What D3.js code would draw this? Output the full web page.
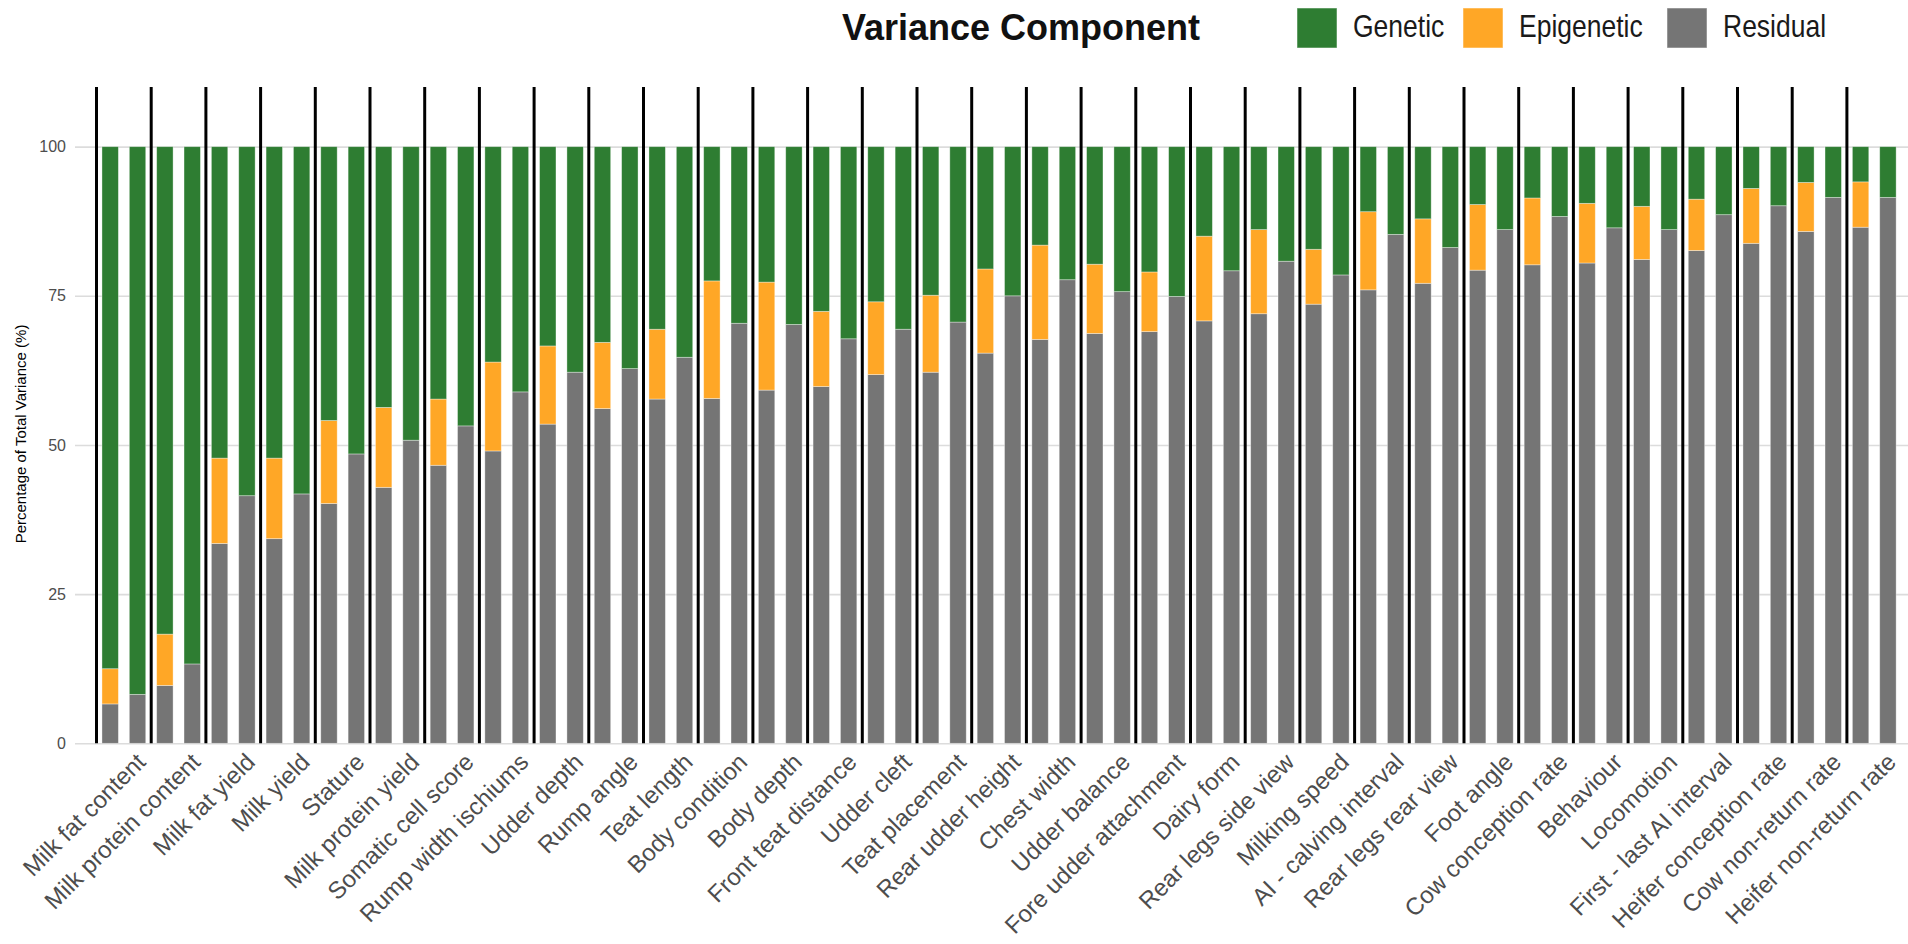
<!DOCTYPE html>
<html>
<head>
<meta charset="utf-8">
<script src="https://cdn.jsdelivr.net/npm/d3@7"></script>
<style>
  body { margin: 0; background: #fff; }
  svg { display: block; font-family: "Liberation Sans", Arial, sans-serif; }
</style>
</head>
<body>
<script>
const traits = [
    "Milk fat content", "Milk protein content", "Milk fat yield", "Milk yield",
    "Stature", "Milk protein yield", "Somatic cell score", "Rump width ischiums",
    "Udder depth", "Rump angle", "Teat length", "Body condition", "Body depth",
    "Front teat distance", "Udder cleft", "Teat placement", "Rear udder height",
    "Chest width", "Udder balance", "Fore udder attachment", "Dairy form",
    "Rear legs side view", "Milking speed", "AI - calving interval",
    "Rear legs rear view", "Foot angle", "Cow conception rate", "Behaviour",
    "Locomotion", "First - last AI interval", "Heifer conception rate",
    "Cow non-return rate", "Heifer non-return rate"
]

// model with epigenetic component (left bar of each pair)
const epiResidual = [6.6, 9.7, 33.5, 34.3, 40.2, 42.9, 46.6, 49.0, 53.5, 56.1, 57.7,
    57.8, 59.2, 59.8, 61.8, 62.2, 65.4, 67.7, 68.7, 69.0, 70.8, 72.0, 73.6, 76.0,
    77.1, 79.3, 80.2, 80.5, 81.1, 82.6, 83.8, 85.8, 86.5]
const epiEpigenetic = [5.9, 8.6, 14.3, 13.5, 13.9, 13.4, 11.1, 14.9, 13.1, 11.1, 11.7,
    19.7, 18.1, 12.6, 12.2, 12.9, 14.1, 15.8, 11.6, 10.0, 14.2, 14.1, 9.2, 13.1,
    10.8, 11.0, 11.2, 10.0, 8.9, 8.6, 9.2, 8.2, 7.6]
const epiGenetic = [87.5, 81.7, 52.2, 52.2, 45.9, 43.7, 42.3, 36.1, 33.4, 32.8, 30.6,
    22.5, 22.7, 27.6, 26.0, 24.9, 20.5, 16.5, 19.7, 21.0, 15.0, 13.9, 17.2, 10.9,
    12.1, 9.7, 8.6, 9.5, 10.0, 8.8, 7.0, 6.0, 5.9]

// model without epigenetic component (right bar of each pair)
const baseResidual = [8.2, 13.3, 41.5, 41.8, 48.5, 50.8, 53.2, 58.9, 62.2, 62.8, 64.7,
    70.4, 70.2, 67.8, 69.4, 70.6, 75.0, 77.7, 75.7, 74.9, 79.2, 80.8, 78.5, 85.3,
    83.1, 86.1, 88.3, 86.4, 86.1, 88.6, 90.1, 91.5, 91.5]
const baseGenetic = [91.8, 86.7, 58.5, 58.2, 51.5, 49.2, 46.8, 41.1, 37.8, 37.2, 35.3,
    29.6, 29.8, 32.2, 30.6, 29.4, 25.0, 22.3, 24.3, 25.1, 20.8, 19.2, 21.5, 14.7,
    16.9, 13.9, 11.7, 13.6, 13.9, 11.4, 9.9, 8.5, 8.5]

const components = ["Residual", "Epigenetic", "Genetic"]
const legendOrder = ["Genetic", "Epigenetic", "Residual"]
const colors = { Genetic: "#2e7d32", Epigenetic: "#ffa726", Residual: "#757575" }
const yTicks = [0, 25, 50, 75, 100]

const width = 1908
const height = 944

const bars = []
traits.forEach((t, i) => {
    bars.push({ id: t + "|epi", trait: t, Residual: epiResidual[i], Epigenetic: epiEpigenetic[i], Genetic: epiGenetic[i] })
    bars.push({ id: t + "|base", trait: t, Residual: baseResidual[i], Epigenetic: 0, Genetic: baseGenetic[i] })
})

const svg = d3.select("body")
    .append("svg")
    .attr("width", width)
    .attr("height", height)

const y = d3.scaleLinear()
    .domain([0, 110])
    .range([743.3, 87])

const x = d3.scaleBand()
    .domain(bars.map(d => d.id))
    .range([96.5, 1901.6])
    .paddingInner(0.4)
    .paddingOuter(0.2)

// one band per trait pair, same extent as the bar bands
const xTrait = d3.scaleBand()
    .domain(traits)
    .range([96.5, 96.5 + x.step() * bars.length])

// gridlines
svg.append("g")
    .attr("class", "grid")
    .attr("transform", "translate(75,0)")
    .call(d3.axisLeft(y).tickValues(yTicks).tickSize(-(width - 75)).tickFormat(""))
    .call(g => g.select(".domain").remove())
    .call(g => g.selectAll("line").attr("stroke", "#dcdcdc").attr("stroke-width", 1.6))

// stacked bars
const stacked = d3.stack().keys(components)(bars)

svg.append("g")
    .selectAll("g")
    .data(stacked)
    .join("g")
    .attr("fill", d => colors[d.key])
    .selectAll("rect")
    .data(d => d.filter(s => s[1] - s[0] > 0))
    .join("rect")
    .attr("x", d => x(d.data.id))
    .attr("width", x.bandwidth())
    .attr("y", d => y(d[1]))
    .attr("height", d => y(d[0]) - y(d[1]))
    .attr("stroke", "#ffffff")
    .attr("stroke-opacity", 0.45)
    .attr("stroke-width", 0.8)

// separators before each trait pair
svg.append("g")
    .selectAll("line")
    .data(traits)
    .join("line")
    .attr("x1", d => xTrait(d))
    .attr("x2", d => xTrait(d))
    .attr("y1", y(110))
    .attr("y2", y(0))
    .attr("stroke", "#000")
    .attr("stroke-width", 3)

// y axis labels
svg.append("g")
    .attr("transform", "translate(75,0)")
    .call(d3.axisLeft(y).tickValues(yTicks).tickSize(0).tickPadding(9))
    .call(g => g.select(".domain").remove())
    .call(g => g.selectAll("text")
        .attr("font-size", 16)
        .attr("fill", "#4d4d4d")
        .attr("font-family", "Liberation Sans, Arial, sans-serif"))

svg.append("text")
    .attr("transform", "translate(26,434) rotate(-90)")
    .attr("text-anchor", "middle")
    .attr("font-size", 15)
    .attr("fill", "#000")
    .text("Percentage of Total Variance (%)")

// x axis labels
svg.append("g")
    .attr("transform", "translate(0,743.3)")
    .call(d3.axisBottom(xTrait).tickSize(0).tickPadding(0))
    .call(g => g.select(".domain").remove())
    .call(g => g.selectAll("text")
        .attr("font-size", 24)
        .attr("fill", "#4d4d4d")
        .attr("font-family", "Liberation Sans, Arial, sans-serif")
        .attr("text-anchor", "end")
        .attr("y", 0)
        .attr("dy", "0.72em")
        .attr("transform", "translate(11,8) rotate(-45)"))

// legend
const legend = svg.append("g")

legend.append("text")
    .attr("x", 842)
    .attr("y", 40)
    .attr("font-size", 36)
    .attr("font-weight", "bold")
    .attr("fill", "#111")
    .text("Variance Component")

const keyX = { Genetic: 1297, Epigenetic: 1463, Residual: 1667 }

const item = legend.selectAll("g.item")
    .data(legendOrder)
    .join("g")
    .attr("class", "item")
    .attr("transform", d => `translate(${keyX[d]},8)`)

item.append("rect")
    .attr("width", 40)
    .attr("height", 40)
    .attr("fill", d => colors[d])
    .attr("stroke", "#ffffff")
    .attr("stroke-opacity", 0.5)

item.append("text")
    .attr("transform", "translate(56,29) scale(1,1.15)")
    .attr("font-size", 26.5)
    .attr("fill", "#1a1a1a")
    .text(d => d)
</script>
</body>
</html>
